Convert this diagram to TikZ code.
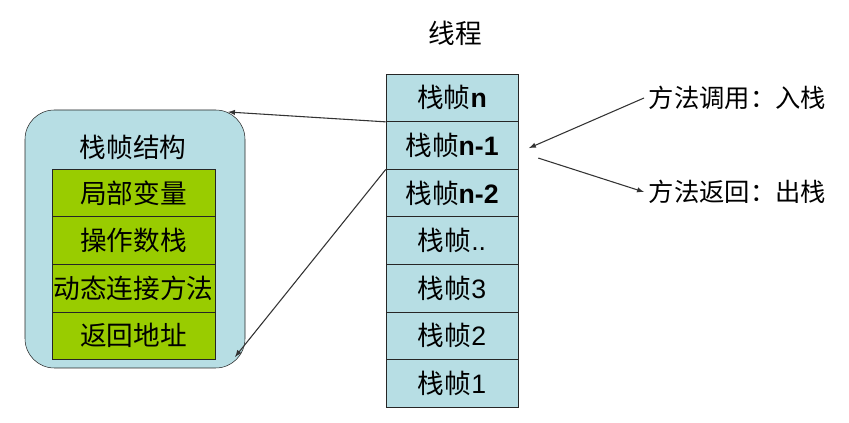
\documentclass[tikz,border=0pt]{standalone}
\usepackage{fontspec}
\setmainfont{Liberation Sans}
\newfontfamily\cjk{Noto Sans CJK SC}
\usetikzlibrary{arrows,positioning}
\definecolor{framecyan}{RGB}{183,222,228}
\definecolor{slotgreen}{RGB}{153,204,0}
\newcommand{\zh}[1]{{\cjk #1}}
\tikzstyle{frame}=[rectangle,draw=black!85,fill=framecyan,minimum width=99pt,minimum height=35.7pt,inner sep=0pt,font=\fontsize{20}{20}\selectfont]
\tikzstyle{slot}=[rectangle,draw=black!85,fill=slotgreen,minimum width=122.25pt,minimum height=35.7pt,inner sep=0pt,font=\fontsize{20}{20}\selectfont]
\tikzstyle{structbox}=[rectangle,rounded corners=22pt,draw=black!85,fill=framecyan,minimum width=165pt,minimum height=193.5pt]
\tikzstyle{title}=[font=\fontsize{20}{20}\selectfont]
\tikzstyle{caption}=[anchor=west,font=\fontsize{19}{19}\selectfont]
\tikzstyle{edge}=[draw,->,>=latex,black!80,line width=0.8pt]

\begin{document}
\begin{tikzpicture}[x=0.75pt,y=-0.75pt]
    \useasboundingbox (0,0) rectangle (849,423);
    % The thread and its stack of frames
    \node[title] (thread) at (455,33) {\zh{线程}};
    \foreach \pos/\name/\text in {{(452,97.8)/f1/{\zh{栈帧}\textbf{n}}}, {(452,145.4)/f2/{\zh{栈帧}\textbf{n-1}}},
        {(452,192.9)/f3/{\zh{栈帧}\textbf{n-2}}}, {(452,240.5)/f4/{\zh{栈帧}..}}, {(452,288.1)/f5/{\zh{栈帧}3}},
        {(452,335.7)/f6/{\zh{栈帧}2}}, {(452,383.2)/f7/{\zh{栈帧}1}}}
        \node[frame] (\name) at \pos {\text};

    % The structure of one frame
    \node[structbox] (struct) at (135,239) {};
    \node[title] (structtitle) at (133,147) {\zh{栈帧结构}};
    \foreach \pos/\name/\text in {{(133.5,192.9)/s1/局部变量}, {(133.5,240.5)/s2/操作数栈},
        {(133.5,288.1)/s3/动态连接方法}, {(133.5,335.7)/s4/返回地址}}
        \node[slot] (\name) at \pos {\zh{\text}};

    % Push and pop
    \node[caption] (call) at (644,98) {\zh{方法调用：入栈}};
    \node[caption] (ret) at (644,192) {\zh{方法返回：出栈}};

    \coordinate (in1) at (228,112);
    \coordinate (in2) at (235,357);
    \path[edge] (f1.south west) -- (in1);
    \path[edge] (f2.south west) -- (in2);
    \path[edge] (call.west) -- ([xshift=8pt,yshift=-2pt]f2.east);
    \path[edge] ([xshift=15pt,yshift=-9.5pt]f2.east) -- (ret.west);
\end{tikzpicture}
\end{document}
